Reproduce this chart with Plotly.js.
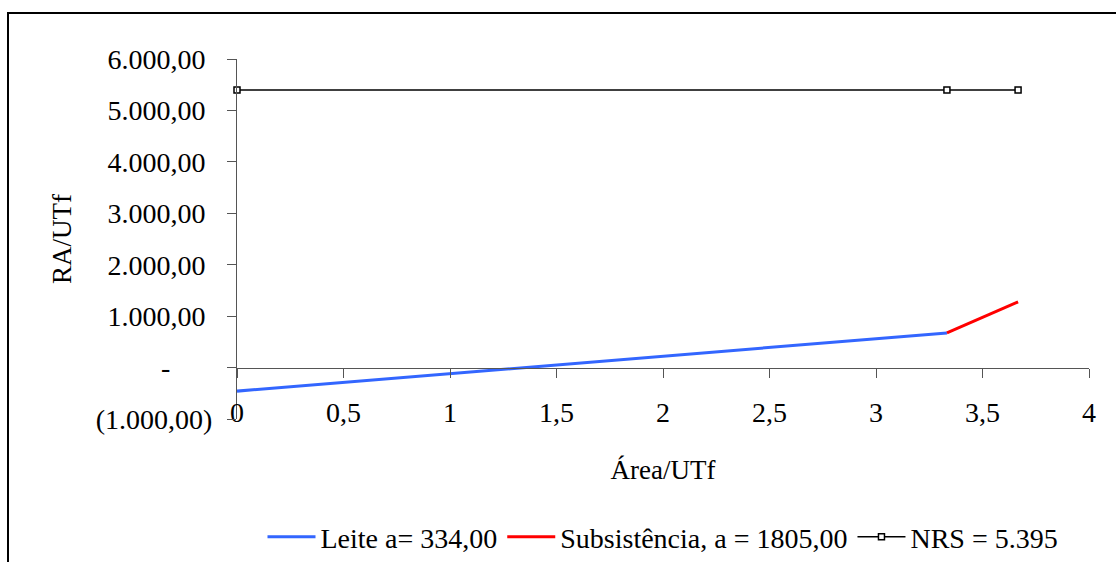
<!DOCTYPE html>
<html>
<head>
<meta charset="utf-8">
<script src="https://cdn.plot.ly/plotly-3.0.1.min.js"></script>
<style>
html,body{margin:0;padding:0;background:#fff;}
#chart{width:1116px;height:562px;}
</style>
</head>
<body>
<div id="chart"></div>
<script>
// Data
const leiteX = [0, 3.333];
const leiteY = [-458, 674];
const subsX = [3.333, 3.667];
const subsY = [674, 1276];
const nrsX = [0, 3.333, 3.667];
const nrsY = [5395, 5395, 5395];

const seriesNames = ['Leite a= 334,00', 'Subsistência, a = 1805,00', 'NRS = 5.395'];

const yTickVals = [-1000, 0, 1000, 2000, 3000, 4000, 5000, 6000];
const NB = '\u00a0';
const yTickText = ['(1.000,00)', '-' + NB.repeat(6), '1.000,00' + NB, '2.000,00' + NB, '3.000,00' + NB, '4.000,00' + NB, '5.000,00' + NB, '6.000,00' + NB];
const xTickVals = [0, 0.5, 1, 1.5, 2, 2.5, 3, 3.5, 4];
const xTickText = ['0', '0,5', '1', '1,5', '2', '2,5', '3', '3,5', '4'];

const FONT = '"Liberation Serif", "DejaVu Serif", serif';
const AX = '#555555';

const traces = [
  {x: leiteX, y: leiteY, name: seriesNames[0], type: 'scatter', mode: 'lines',
   line: {color: '#3366FF', width: 3}, cliponaxis: false},
  {x: subsX, y: subsY, name: seriesNames[1], type: 'scatter', mode: 'lines',
   line: {color: '#FF0000', width: 3}, cliponaxis: false},
  {x: nrsX, y: nrsY, name: seriesNames[2], type: 'scatter', mode: 'lines+markers',
   line: {color: '#000000', width: 1.5},
   marker: {symbol: 'square', size: 6, color: '#ffffff', line: {color: '#000000', width: 1.5}},
   cliponaxis: false}
];

const layout = {
  width: 1116, height: 562,
  margin: {l: 237, r: 27, t: 59, b: 143},
  paper_bgcolor: '#ffffff', plot_bgcolor: '#ffffff',
  font: {family: FONT, size: 28, color: '#000000'},
  showlegend: true,
  legend: {orientation: 'h', x: 0.5, xanchor: 'center', xref: 'paper',
           y: 1 - 537 / 562, yanchor: 'middle', yref: 'container',
           font: {family: FONT, size: 28, color: '#000'}, itemwidth: 48, tracegroupgap: 0},
  xaxis: {
    range: [0, 4], anchor: 'free', position: 1/7,
    tickvals: xTickVals, ticktext: xTickText,
    showgrid: false, zeroline: false,
    showline: true, linecolor: AX, linewidth: 1,
    ticks: 'outside', ticklen: 9, tickcolor: AX, tickwidth: 1,
    ticklabelstandoff: 11,
    tickfont: {family: FONT, size: 28, color: '#000'},
    title: {text: 'Área/UTf', font: {family: FONT, size: 27, color: '#000'}, standoff: 32}
  },
  yaxis: {
    range: [-1000, 6000],
    tickvals: yTickVals, ticktext: yTickText,
    showgrid: false, zeroline: false,
    showline: true, linecolor: AX, linewidth: 1,
    ticks: 'outside', ticklen: 9, tickcolor: AX, tickwidth: 1,
    ticklabelstandoff: 9,
    tickfont: {family: FONT, size: 28, color: '#000'},
    title: {text: 'RA/UTf', font: {family: FONT, size: 27, color: '#000'}, standoff: 16}
  },
  shapes: [
    {type: 'rect', xref: 'paper', yref: 'paper',
     x0: (8 - 237) / 852, x1: 1.2, y0: -0.6, y1: (419 - 13) / 360,
     line: {color: '#000000', width: 2}, fillcolor: 'rgba(0,0,0,0)', layer: 'below'}
  ]
};

Plotly.newPlot('chart', traces, layout, {displayModeBar: false, staticPlot: true});
</script>
</body>
</html>
